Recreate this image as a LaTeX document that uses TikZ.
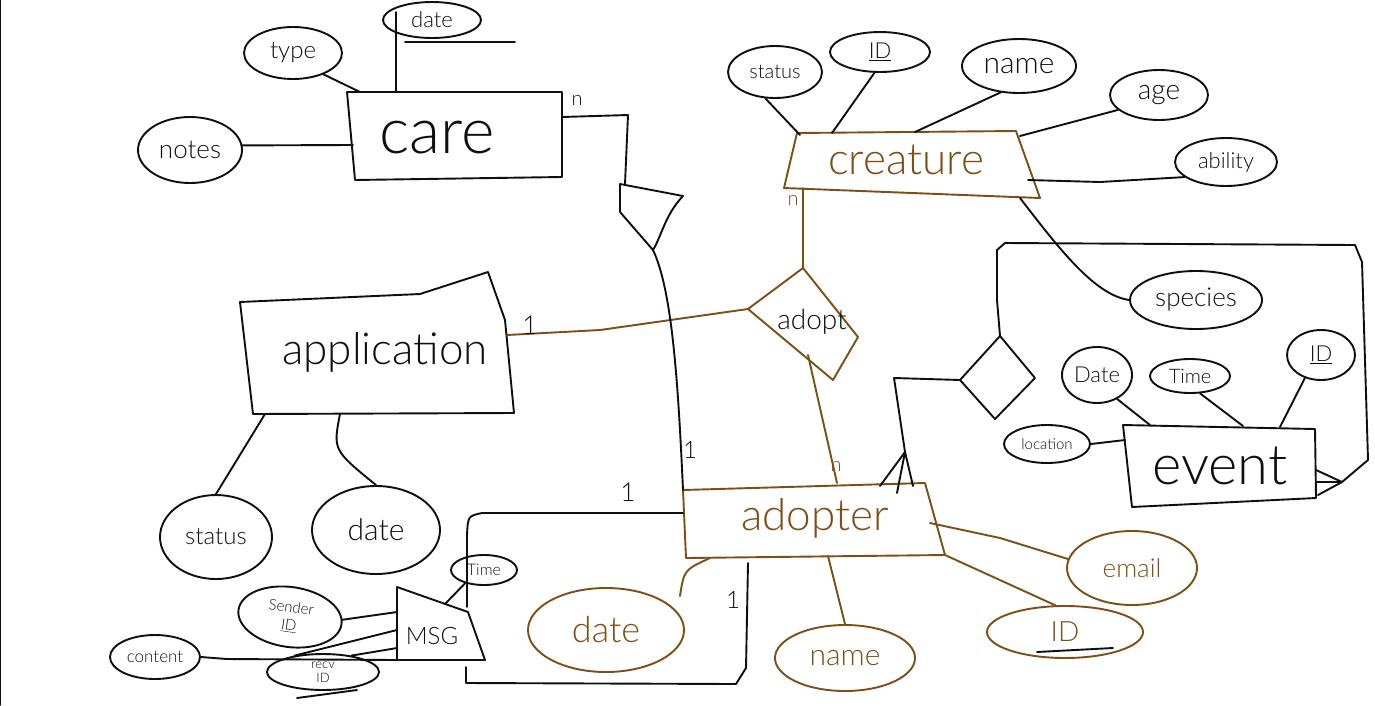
\documentclass[tikz,border=0pt]{standalone}
\usepackage{fontspec}
\setmainfont{Lato Light}
\usetikzlibrary{shapes.geometric}

\definecolor{pen}{RGB}{15,15,15}
\definecolor{umber}{RGB}{125,78,22}

\newcommand{\hw}[1]{\fontsize{#1}{#1}\selectfont}

\tikzset{
  stroke/.style={line width=1.9pt, line join=round, line cap=round},
  attr/.style={ellipse, draw, stroke, inner sep=0pt, align=center},
  lbl/.style={inner sep=0pt, align=center},
}

\begin{document}
\begin{tikzpicture}[x=1pt, y=-1pt, stroke, draw=pen, text=pen]
\useasboundingbox (0,0) rectangle (1375,705);
\fill[white] (0,0) rectangle (1375,705);
\draw[line width=1.3pt] (0.8,0) -- (0.8,705);

% ---------------- care ----------------
\coordinate (care-nw) at (347,92);
\coordinate (care-ne) at (562,92);
\coordinate (care-se) at (562,177);
\coordinate (care-sw) at (355,180);
\draw (care-nw) -- (care-ne) -- (care-se) -- (care-sw) -- cycle;
\node[lbl, font=\hw{64}] (care) at (437,138) {care};

\node[attr, minimum width=98, minimum height=52, font=\hw{24}] (ctype) at (293,53) {type};
\node[attr, minimum width=98, minimum height=36, font=\hw{22}] (cdate) at (432,20) {date};
\node[attr, minimum width=104, minimum height=66, font=\hw{26}] (cnotes) at (190,150) {notes};

\coordinate (care-t1) at (360,92);
\coordinate (care-t2) at (396,92);
\coordinate (cdate-in) at (396,12);
\coordinate (care-w1) at (353,145);
\draw (ctype.-35) -- (care-t1);
\draw (cdate-in) -- (care-t2);
\draw (405,42) -- (515,42);
\draw (cnotes.5) -- (care-w1);

% care -- adopter (through the funnel)
\coordinate (care-e1) at (562,117);
\coordinate (fun-a) at (628,115);
\coordinate (fun-tl) at (620,184);
\coordinate (fun-tr) at (683,196);
\coordinate (fun-l) at (620,212);
\coordinate (fun-tip) at (653,250);
\node[lbl, font=\hw{20}] (n-care) at (577,100) {n};
\draw (care-e1) -- (fun-a) -- (625,184);
\draw (fun-l) -- (fun-tl) -- (fun-tr) .. controls (665,215) and (662,235) .. (fun-tip) -- (fun-l);

% ---------------- application ----------------
\coordinate (app-nw) at (240,302);
\coordinate (app-nm) at (420,294);
\coordinate (app-ne) at (488,272);
\coordinate (app-e) at (505,320);
\coordinate (app-se) at (514,413);
\coordinate (app-sw) at (253,414);
\draw (app-nw) -- (app-nm) -- (app-ne) -- (app-e) -- (app-se) -- (app-sw) -- cycle;
\node[lbl, font=\hw{44}] (app) at (385,352) {application};

\node[attr, minimum width=112, minimum height=84, font=\hw{24}] (astatus) at (216,537) {status};
\node[attr, minimum width=128, minimum height=88, font=\hw{30}] (adate) at (376,530) {date};
\coordinate (app-s1) at (265,414);
\coordinate (app-s2) at (340,414);
\draw (app-s1) -- (astatus.north);
\draw (app-s2) .. controls (333,450) .. (adate.north);

% ---------------- creature ----------------
\coordinate (cr-nw) at (797,133);
\coordinate (cr-ne) at (1016,131);
\coordinate (cr-se) at (1040,198);
\coordinate (cr-sw) at (784,188);
\draw[umber] (cr-nw) -- (cr-ne) -- (cr-se) -- (cr-sw) -- cycle;
\node[lbl, text=umber, font=\hw{44}] (creature) at (906,160) {creature};

\node[attr, minimum width=94, minimum height=52, font=\hw{20}] (crstatus) at (775,72) {status};
\node[attr, minimum width=100, minimum height=40, font=\hw{22}] (crid) at (880,52) {\underline{ID}};
\node[attr, minimum width=114, minimum height=54, font=\hw{30}] (crname) at (1019,66) {name};
\node[attr, minimum width=98, minimum height=50, font=\hw{28}] (crage) at (1159,95) {age};
\node[attr, minimum width=102, minimum height=48, font=\hw{22}] (crability) at (1226,162) {ability};
\node[attr, minimum width=132, minimum height=58, font=\hw{26}] (crspecies) at (1196,300) {species};

\coordinate (cr-t1) at (800,135);
\coordinate (cr-t2) at (832,133);
\coordinate (cr-t3) at (915,132);
\coordinate (cr-e1) at (1020,136);
\coordinate (cr-e2) at (1028,180);
\coordinate (cr-s1) at (1020,198);
\draw (crstatus.250) -- (cr-t1);
\draw (crid.255) -- (cr-t2);
\draw (crname.235) -- (cr-t3);
\draw (crage.200) -- (cr-e1);
\draw (crability.200) -- (1100,182) -- (cr-e2);
\draw (cr-s1) .. controls (1060,250) and (1095,295) .. (crspecies.west);

% ---------------- adopt (relationship) ----------------
\coordinate (ad-t) at (803,268);
\coordinate (ad-r) at (858,337);
\coordinate (ad-b) at (833,380);
\coordinate (ad-l) at (748,309);
\draw[umber] (ad-t) -- (ad-r) -- (ad-b) -- (ad-l) -- cycle;
\node[lbl, font=\hw{28}] (adopt) at (812,322) {adopt};

\coordinate (cr-b1) at (803,188);
\coordinate (app-e1) at (507,335);
\coordinate (ad-bl) at (808,355);
\draw[umber] (cr-b1) -- (ad-t);
\draw[umber] (app-e1) -- (600,330) -- (ad-l);
\node[lbl, text=umber, font=\hw{20}] (n-cr) at (793,200) {n};
\node[lbl, font=\hw{26}] (one-app) at (530,325) {1};

% ---------------- adopter ----------------
\coordinate (ar-nw) at (683,490);
\coordinate (ar-ne) at (925,483);
\coordinate (ar-se) at (945,555);
\coordinate (ar-sw) at (686,558);
\draw[umber] (ar-nw) -- (ar-ne) -- (ar-se) -- (ar-sw) -- cycle;
\node[lbl, text=umber, font=\hw{44}] (adopter) at (815,518) {adopter};

\draw[umber] (ad-bl) -- (837,483);
\node[lbl, text=umber, font=\hw{20}] (n-ar) at (836,466) {n};

% care funnel down to adopter
\draw (fun-tip) .. controls (672,290) and (678,380) .. (ar-nw);
\node[lbl, font=\hw{24}] (one-care) at (690,450) {1};

\node[attr, draw=umber, text=umber, minimum width=156, minimum height=84, font=\hw{36}] (ardate) at (606,630) {date};
\node[attr, draw=umber, text=umber, minimum width=140, minimum height=66, font=\hw{30}] (arname) at (845,658) {name};
\node[attr, draw=umber, text=umber, minimum width=156, minimum height=52, font=\hw{28}] (arid) at (1065,632) {ID};
\node[attr, draw=umber, text=umber, minimum width=130, minimum height=74, font=\hw{26}] (aremail) at (1132,568) {email};
\draw (1037,652) -- (1113,648);

\coordinate (ar-b1) at (710,558);
\coordinate (ar-b2) at (828,556);
\coordinate (ar-e1) at (930,523);
\draw[umber] (ar-b1) .. controls (684,570) .. (680,596);
\draw[umber] (ar-b2) -- (arname.north);
\draw[umber] (ar-se) -- (arid.110);
\draw[umber] (ar-e1) -- (1000,538) -- (aremail.172);

% ---------------- MSG ----------------
\coordinate (m-nw) at (397,587);
\coordinate (m-ne) at (468,612);
\coordinate (m-se) at (485,660);
\coordinate (m-sw) at (397,660);
\draw (m-nw) -- (m-ne) -- (m-se) -- (m-sw) -- cycle;
\node[lbl, font=\hw{24}] (msg) at (432,636) {MSG};

\node[attr, minimum width=66, minimum height=30, font=\hw{16}] (mtime) at (484,570) {Time};
\node[attr, rotate=-8, minimum width=104, minimum height=60, font=\hw{15}] (msender) at (290,617) {Sender\\[3pt]\underline{ID}};
\node[attr, minimum width=90, minimum height=44, font=\hw{17}] (mcontent) at (155,657) {content};
\node[attr, minimum width=112, minimum height=36, font=\hw{13}] (mrecv) at (323,672) {recv\\[1pt]ID};
\draw (297,698) -- (357,690);

\coordinate (m-t1) at (445,604);
\coordinate (m-w1) at (397,612);
\coordinate (m-w2) at (397,630);
\coordinate (m-w3) at (397,648);
\draw (mtime.215) -- (m-t1);
\draw (msender.5) -- (m-w1);
\draw (mcontent.east) -- (227,659) -- (m-sw);
\draw (m-w2) -- (mrecv.150);
\draw (m-w3) -- (mrecv.30);

% MSG -- adopter loop (sender / receiver)
\coordinate (ar-w1) at (683,513);
\coordinate (m-top) at (467,607);
\coordinate (m-bot) at (466,667);
\coordinate (ar-b3) at (748,563);
\draw (ar-w1) -- (482,513) .. controls (468,516) .. (467,535) -- (m-top);
\draw (m-bot) -- (466,683) -- (736,684) -- (746,668) -- (ar-b3);
\node[lbl, font=\hw{26}] (one-s) at (628,492) {1};
\node[lbl, font=\hw{24}] (one-r) at (733,600) {1};

% ---------------- event ----------------
\coordinate (ev-nw) at (1123,425);
\coordinate (ev-ne) at (1315,429);
\coordinate (ev-se) at (1316,498);
\coordinate (ev-sw) at (1132,507);
\draw (ev-nw) -- (ev-ne) -- (ev-se) -- (ev-sw) -- cycle;
\node[lbl, font=\hw{56}] (event) at (1220,466) {event};

\node[attr, minimum width=70, minimum height=56, font=\hw{22}] (evdate) at (1097,375) {Date};
\node[attr, minimum width=80, minimum height=34, font=\hw{20}] (evtime) at (1190,376) {Time};
\node[attr, minimum width=68, minimum height=50, font=\hw{22}] (evid) at (1321,355) {\underline{ID}};
\node[attr, minimum width=86, minimum height=38, font=\hw{15}] (evloc) at (1047,444) {location};

\coordinate (ev-t1) at (1150,425);
\coordinate (ev-t2) at (1243,426);
\coordinate (ev-t3) at (1280,427);
\coordinate (ev-w1) at (1125,440);
\draw (evdate.-50) -- (ev-t1);
\draw (evtime.-60) -- (ev-t2);
\draw (evid.235) -- (ev-t3);
\draw (evloc.east) -- (ev-w1);

% event relationship diamond
\coordinate (ed-t) at (1000,336);
\coordinate (ed-r) at (1035,378);
\coordinate (ed-b) at (995,419);
\coordinate (ed-l) at (960,380);
\draw (ed-t) -- (ed-r) -- (ed-b) -- (ed-l) -- cycle;

% diamond -- adopter (crow's foot)
\coordinate (cf-a) at (905,452);
\draw (ed-l) -- (894,378) -- (cf-a);
\draw (cf-a) -- (880,486);
\draw (cf-a) -- (897,493);
\draw (cf-a) -- (913,486);

% diamond -- event (crow's foot)
\coordinate (cf-b) at (1342,482);
\draw (ed-t) -- (997,300) -- (997,250) -- (1005,243) -- (1355,245) -- (1362,262) -- (1368,460) -- (cf-b);
\draw (cf-b) -- (1316,470);
\draw (cf-b) -- (1316,482);
\draw (cf-b) -- (1318,495);
\end{tikzpicture}
\end{document}
